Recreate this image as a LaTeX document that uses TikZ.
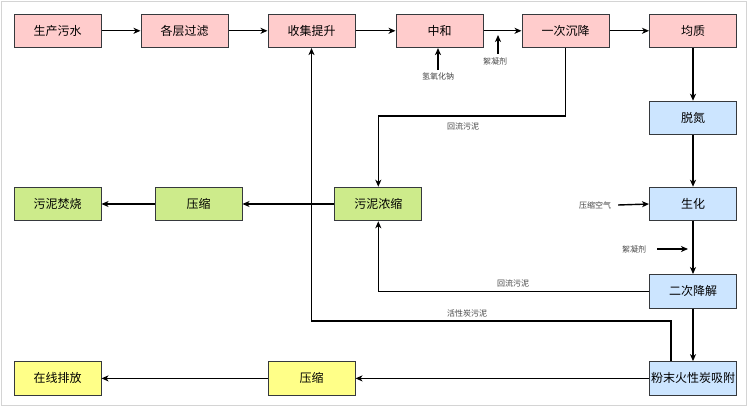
\documentclass[tikz,border=0pt]{standalone}
\usepackage{fontspec}
\setmainfont{Noto Sans CJK SC}
\usetikzlibrary{arrows.meta}
\definecolor{pinkf}{HTML}{FFCCCC}
\definecolor{bluef}{HTML}{CCE5FF}
\definecolor{greenf}{HTML}{CDEB8B}
\definecolor{yellowf}{HTML}{FFFF88}
\definecolor{edgec}{HTML}{36393D}
\definecolor{labc}{HTML}{444444}
\definecolor{framec}{HTML}{D4D4D4}
\begin{document}
\begin{tikzpicture}[x=1pt,y=-1pt,
  box/.style={draw=edgec,line width=1pt,minimum width=87pt,minimum height=33.5pt,inner sep=0pt,font=\fontsize{12}{14}\selectfont,text=black},
  pk/.style={box,fill=pinkf},
  bl/.style={box,fill=bluef},
  gr/.style={box,fill=greenf},
  yl/.style={box,fill=yellowf},
  lab/.style={font=\fontsize{8}{9}\selectfont,text=labc,inner sep=1pt},
  arr/.style={line width=1.4pt,-{Stealth[length=7pt,width=6pt,inset=2pt]}},
  ln/.style={line width=1.4pt}]
\useasboundingbox (0,0) rectangle (750,409);
\draw[framec,line width=1.5pt] (1.5,1.5) rectangle (746.5,405.5);
% row 1
\node[pk] (sc) at (57.5,30.8) {生产污水};
\node[pk] (gc) at (184.5,30.8) {各层过滤};
\node[pk] (sj) at (311.5,30.8) {收集提升};
\node[pk] (zh) at (439.5,30.8) {中和};
\node[pk] (yc) at (565.5,30.8) {一次沉降};
\node[pk] (jz) at (693,30.8) {均质};
% blue column
\node[bl] (td) at (693,118) {脱氮};
\node[bl] (sh) at (693,204) {生化};
\node[bl] (ej) at (693,291.3) {二次降解};
\node[bl] (fm) at (693,378.4) {粉末火性炭吸附};
% row 3
\node[gr] (wn) at (378.3,204) {污泥浓缩};
\node[gr] (ys1) at (198.5,204) {压缩};
\node[gr] (fs) at (57.5,204) {污泥焚烧};
% row 5
\node[yl] (ys2) at (311.5,378.4) {压缩};
\node[yl] (zx) at (57.5,378.4) {在线排放};
% labels
\node[lab] (naoh) at (438,76) {氢氧化钠};
\node[lab] (xn1) at (495,61) {絮凝剂};
\node[lab] (kq) at (595,205) {压缩空气};
\node[lab] (xn2) at (634,249) {絮凝剂};
\node[lab] (hl1) at (463,126.5) {回流污泥};
\node[lab] (hl2) at (513,283) {回流污泥};
\node[lab] (hx) at (467,313) {活性炭污泥};
\coordinate (xn1t) at (498,35);
\coordinate (xn1s) at (498,54);
\coordinate (xn2t) at (688,249);
\coordinate (k1) at (0,116);
\coordinate (k2) at (0,321);
% main flow
\draw[arr] (sc) -- (gc);
\draw[arr] (gc) -- (sj);
\draw[arr] (sj) -- (zh);
\draw[arr] (zh) -- (yc);
\draw[arr] (yc) -- (jz);
\draw[arr] (jz) -- (td);
\draw[arr] (td) -- (sh);
\draw[arr] (sh) -- (ej);
\draw[arr] (ej) -- (fm);
\draw[arr] (wn) -- (ys1);
\draw[arr] (ys1) -- (fs);
\draw[arr] (fm) -- (ys2);
\draw[arr] (ys2) -- (zx);
% side inputs
\draw[arr] ([yshift=1pt]naoh.north) -- (naoh.north |- zh.south);
\draw[arr] (xn1s) -- (xn1t);
\draw[arr] ([xshift=6pt]kq.east) -- (sh.west);
\draw[arr] ([xshift=10pt]xn2.east) -- (xn2t);
% return lines
\draw[arr] (yc.south) -- (yc.south |- k1) -| (wn.north);
\draw[arr] (ej.west) -| (wn.south);
\draw[arr] ([xshift=-22pt]fm.north) -- ([xshift=-22pt]fm.north |- k2) -| (sj.south);
\end{tikzpicture}
\end{document}
